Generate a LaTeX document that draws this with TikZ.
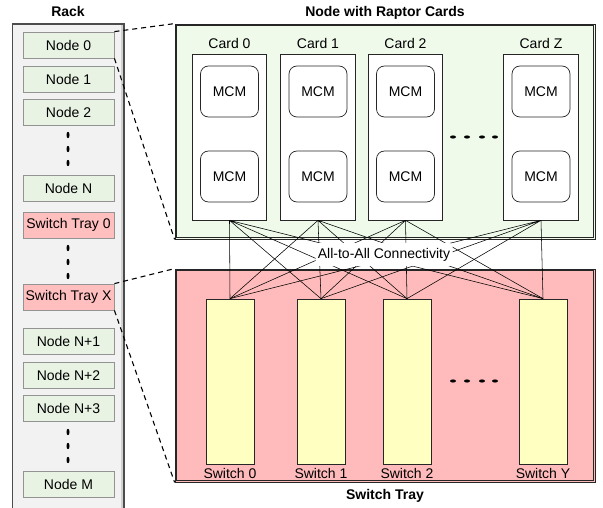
\documentclass[tikz,border=0pt]{standalone}
\usepackage{fontspec}
\setmainfont{Liberation Sans}
\usetikzlibrary{positioning}

\definecolor{rackgray}{HTML}{F2F2F2}
\definecolor{slotgreen}{HTML}{E8F3E4}
\definecolor{slotpink}{HTML}{FFBFBF}
\definecolor{boxgreen}{HTML}{EFFAEB}
\definecolor{boxpink}{HTML}{FFBBBB}
\definecolor{swyellow}{HTML}{FFFFC2}

\tikzset{
  txt/.style={font=\fontsize{14}{16}\selectfont,inner sep=1pt},
  title/.style={font=\fontsize{14}{16}\selectfont\bfseries,inner sep=1pt},
  rackslot/.style={txt,draw=gray!85,line width=0.8pt,fill=slotgreen,minimum width=91pt,minimum height=26pt,inner sep=0pt},
  trayslot/.style={rackslot,fill=slotpink},
  bigbox/.style={draw=black!85,line width=0.8pt,minimum width=420pt,inner sep=0pt},
  innerline/.style={draw=black!85,line width=0.8pt},
  card/.style={draw=black!85,line width=0.7pt,fill=white,minimum width=74.5pt,minimum height=166pt,inner sep=0pt},
  mcm/.style={txt,draw=black!85,line width=0.7pt,rounded corners=8pt,minimum width=58pt,minimum height=51pt},
  switch/.style={draw=black!85,line width=0.7pt,fill=swyellow,minimum width=48pt,minimum height=165pt,inner sep=0pt},
  zoomline/.style={line width=1.1pt,dash pattern=on 5pt off 4pt},
  wire/.style={line width=0.55pt}
}

\begin{document}
\begin{tikzpicture}[x=1pt,y=-1pt]
\useasboundingbox (0,0) rectangle (603,508);

% the rack on the left
\draw[fill=rackgray,draw=black!70,line width=1.5pt] (12.5,24) rectangle (124,520);
\draw[gray!35,line width=2pt] (121.5,25) -- (121.5,520);
\node[title] (racklbl) at (68,11) {Rack};

\node[rackslot] (n0) at (68.5,45) {Node 0};
\node[rackslot] (n1) at (68.5,79) {Node 1};
\node[rackslot] (n2) at (68.5,112) {Node 2};
\node[rackslot] (nN) at (68.5,188.5) {Node N};
\node[trayslot] (st0) at (68.5,225) {Switch Tray 0};
\node[trayslot] (stX) at (68.5,297) {Switch Tray X};
\node[rackslot] (nN1) at (68.5,341) {Node N+1};
\node[rackslot] (nN2) at (68.5,375) {Node N+2};
\node[rackslot] (nN3) at (68.5,408.5) {Node N+3};
\node[rackslot] (nM) at (68.5,484.5) {Node M};

% vertical dots
\fill (68,135) ellipse (1.5 and 3.2) (68,149) ellipse (1.5 and 3.2) (68,163) ellipse (1.5 and 3.2);
\fill (68,248) ellipse (1.5 and 3.2) (68,262) ellipse (1.5 and 3.2) (68,276) ellipse (1.5 and 3.2);
\fill (68,432) ellipse (1.5 and 3.2) (68,446) ellipse (1.5 and 3.2) (68,460) ellipse (1.5 and 3.2);

% node with the cards
\node[bigbox,fill=boxgreen,minimum height=215pt] (raptor) at (385,131.5) {};
\draw[innerline] ([shift={(2.2,2.2)}]raptor.north west) rectangle ([shift={(-2.2,-2.2)}]raptor.south east);
\node[title] (raptorlbl) at (385,13) {Node with Raptor Cards};

\node[card] (c0) at (229.5,137) {};
\node[card] (c1) at (318,137) {};
\node[card] (c2) at (405.5,137) {};
\node[card] (cZ) at (541,137) {};

\node[txt] (c0lbl) at (229.5,43) {Card 0};
\node[txt] (c1lbl) at (318,43) {Card 1};
\node[txt] (c2lbl) at (405.5,43) {Card 2};
\node[txt] (cZlbl) at (541,43) {Card Z};

\node[mcm] (c0a) at (229.5,91.5) {MCM};
\node[mcm] (c0b) at (229.5,176.5) {MCM};
\node[mcm] (c1a) at (318,91.5) {MCM};
\node[mcm] (c1b) at (318,176.5) {MCM};
\node[mcm] (c2a) at (405.5,91.5) {MCM};
\node[mcm] (c2b) at (405.5,176.5) {MCM};
\node[mcm] (cZa) at (541,91.5) {MCM};
\node[mcm] (cZb) at (541,176.5) {MCM};

\fill (453,137) ellipse (3 and 1.6) (467,137) ellipse (3 and 1.6) (482,137) ellipse (3 and 1.6) (495,137) ellipse (3 and 1.6);

% the switch tray
\node[bigbox,fill=boxpink,minimum height=213pt] (tray) at (385,375.5) {};
\draw[innerline] ([shift={(2.2,2.2)}]tray.north west) rectangle ([shift={(-2.2,-2.2)}]tray.south east);
\node[title] (traylbl) at (385,496) {Switch Tray};

\node[switch] (s0) at (230,381.5) {};
\node[switch] (s1) at (321,381.5) {};
\node[switch] (s2) at (407,381.5) {};
\node[switch] (sY) at (543,381.5) {};

\node[txt] (s0lbl) at (230,473) {Switch 0};
\node[txt] (s1lbl) at (321,473) {Switch 1};
\node[txt] (s2lbl) at (407,473) {Switch 2};
\node[txt] (sYlbl) at (543,473) {Switch Y};

\fill (453,381) ellipse (3 and 1.6) (467,381) ellipse (3 and 1.6) (482,381) ellipse (3 and 1.6) (495,381) ellipse (3 and 1.6);

% all-to-all wiring
\draw[wire] (c0.south)--(s0.north) (c0.south)--(s1.north) (c0.south)--(s2.north) (c0.south)--(sY.north);
\draw[wire] (c1.south)--(s0.north) (c1.south)--(s1.north) (c1.south)--(s2.north) (c1.south)--(sY.north);
\draw[wire] (c2.south)--(s0.north) (c2.south)--(s1.north) (c2.south)--(s2.north) (c2.south)--(sY.north);
\draw[wire] (cZ.south)--(s0.north) (cZ.south)--(s1.north) (cZ.south)--(s2.north) (cZ.south)--(sY.north);

\node[txt,fill=white,rounded corners=3pt,minimum width=137pt,minimum height=23pt] (a2a) at (384,254.5) {All-to-All Connectivity};

% zoom lines out of the rack
\draw[zoomline] (n0.north east)--(raptor.north west);
\draw[zoomline] (n0.south east)--(raptor.south west);
\draw[zoomline] (stX.north east)--(tray.north west);
\draw[zoomline] (stX.south east)--(tray.south west);

\end{tikzpicture}
\end{document}
